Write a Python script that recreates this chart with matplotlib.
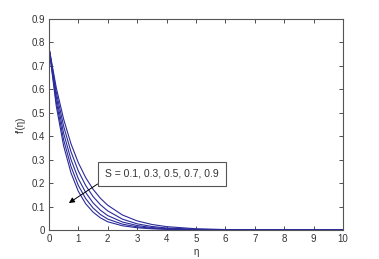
import matplotlib
matplotlib.use("Agg")
import matplotlib.pyplot as plt

eta = [0, 0.25, 0.5, 0.75, 1, 1.25, 1.5, 1.75, 2, 2.5, 3, 3.5, 4, 5, 6, 7, 8, 10]
fp_1 = [0.78, 0.529, 0.359, 0.244, 0.165, 0.112, 0.0763, 0.0518, 0.0351, 0.018, 0.0095, 0.005, 0.0027, 0.0008, 0.0002, 0.0001, 0, 0]
fp_2 = [0.78, 0.548, 0.385, 0.271, 0.190, 0.134, 0.0941, 0.0661, 0.0465, 0.025, 0.0135, 0.0073, 0.0040, 0.0012, 0.0004, 0.0001, 0, 0]
fp_3 = [0.78, 0.568, 0.413, 0.301, 0.219, 0.160, 0.116, 0.0845, 0.0615, 0.034, 0.019, 0.0105, 0.0058, 0.0018, 0.0006, 0.0002, 0.0001, 0]
fp_4 = [0.78, 0.588, 0.443, 0.334, 0.252, 0.190, 0.143, 0.108, 0.0814, 0.0463, 0.0263, 0.015, 0.0085, 0.0028, 0.0009, 0.0003, 0.0001, 0]
fp_5 = [0.78, 0.607, 0.473, 0.368, 0.287, 0.2235, 0.174, 0.1355, 0.1056, 0.064, 0.0388, 0.0236, 0.0143, 0.0053, 0.0019, 0.0007, 0.0002, 0]
series = [fp_1, fp_2, fp_3, fp_4, fp_5]

xticks = list(range(0, 11))
yticks = [0, 0.1, 0.2, 0.3, 0.4, 0.5, 0.6, 0.7, 0.8, 0.9]
label_text = "S = 0.1, 0.3, 0.5, 0.7, 0.9"

plt.rcParams['font.family'] = ['Liberation Sans', 'DejaVu Sans']
fig = plt.figure(figsize=(3.79, 2.59), dpi=100)
ax = fig.add_axes([0.129, 0.112, 0.776, 0.815])
for s in series:
    ax.plot(eta, s, color='#2a2a9a', lw=0.8)
ax.set_xlim(0, 10)
ax.set_ylim(0, 0.9)
ax.set_xticks(xticks)
ax.set_xticklabels([str(t) for t in xticks])
ax.set_yticks(yticks)
ax.set_yticklabels(['0'] + [f"{t:.1f}" for t in yticks[1:]])
ax.tick_params(direction='in', length=3, width=0.6, labelsize=7, colors='#333333',
               top=True, right=True, pad=3)
for sp in ax.spines.values():
    sp.set_color('#555555')
    sp.set_linewidth(0.8)
ax.set_xlabel('η', fontsize=7, color='#333333', labelpad=2)
ax.set_ylabel("f'(η)", fontsize=7, color='#333333', labelpad=4)

ax.annotate(label_text, xy=(0.68, 0.115), xytext=(3.85, 0.239),
            fontsize=7.5, color='#333333', ha='center', va='center',
            bbox=dict(boxstyle='square,pad=0.7', fc='white', ec='#555555', lw=0.8),
            arrowprops=dict(arrowstyle='-|>', color='black', lw=0.7, relpos=(0, 0),
                            mutation_scale=8, shrinkA=0, shrinkB=0))

fig.savefig('out.png', dpi=100)
